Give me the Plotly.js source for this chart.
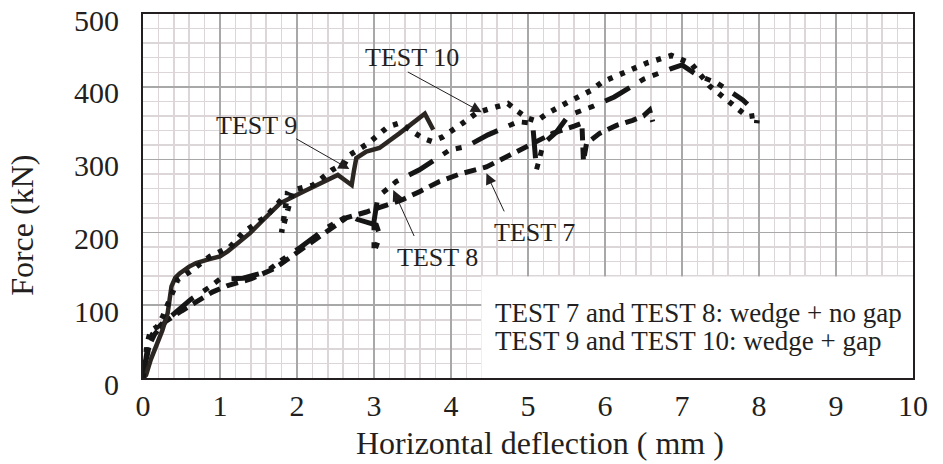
<!DOCTYPE html>
<html>
<head>
<meta charset="utf-8">
<script src="https://cdn.plot.ly/plotly-3.0.1.min.js"></script>
<style>html,body{margin:0;padding:0;background:#fff;}#chart{width:943px;height:464px;}</style>
</head>
<body>
<div id="chart"></div>
<script>
// TEST 7 (dashed)
const test7X = [0, 0.03, 0.08, 0.15, 0.3, 0.5, 0.7, 0.9, 1.1, 1.4, 1.7, 1.9, 2.12, 2.34, 2.64, 2.9, 3.1, 3.37, 3.59, 3.85, 4.11, 4.46, 4.76, 5.06, 5.32, 5.6, 5.7, 5.72, 5.76, 5.93, 6.15, 6.36, 6.5, 6.58, 6.62];
const test7Y = [0, 20, 45, 60, 78, 92, 105, 118, 127, 136, 150, 165, 183, 199, 220, 228, 235, 245, 256, 270, 280, 290, 306, 322, 336, 346, 350, 298, 322, 336, 347, 354, 360, 368, 352];
// TEST 8 (long dash dot)
const test8X = [0, 0.05, 0.12, 0.25, 0.4, 0.62, 0.85, 1.0, 1.3, 1.6, 1.8, 2.05, 2.38, 2.68, 2.78, 3.03, 3.08, 3.0, 3.0, 3.05, 3.29, 3.59, 3.98, 4.2, 4.48, 4.87, 5.06, 5.11, 5.2, 5.37, 5.53, 5.84, 6.12, 6.25, 6.51, 6.86, 7.0, 7.2, 7.46, 7.79, 7.85];
const test8Y = [0, 35, 60, 75, 88, 108, 124, 136, 137, 146, 162, 180, 206, 224, 218, 210, 195, 173, 215, 249, 270, 286, 313, 318, 334, 352, 350, 286, 322, 338, 361, 373, 386, 395, 411, 425, 430, 416, 405, 382, 376];
// TEST 9 (solid)
const test9X = [0, 0.04, 0.1, 0.17, 0.25, 0.32, 0.37, 0.42, 0.48, 0.6, 0.69, 0.85, 1.0, 1.1, 1.21, 1.39, 1.56, 1.78, 2.1, 2.35, 2.53, 2.62, 2.71, 2.74, 2.77, 2.9, 3.07, 3.33, 3.5, 3.66, 3.77];
const test9Y = [0, 4, 25, 43, 65, 89, 126, 138, 144, 153, 158, 163, 167, 174, 183, 199, 217, 240, 257, 269, 279, 272, 265, 285, 302, 311, 316, 336, 350, 363, 341];
// TEST 10 (dotted)
const test10X = [0, 0.03, 0.06, 0.1, 0.18, 0.26, 0.35, 0.45, 0.61, 0.87, 1.13, 1.3, 1.6, 1.88, 1.8, 1.95, 2.21, 2.34, 2.46, 2.62, 2.68, 2.92, 3.18, 3.33, 3.49, 3.64, 3.75, 3.89, 4.15, 4.33, 4.54, 4.74, 4.87, 4.99, 5.11, 5.26, 5.52, 5.82, 5.97, 6.25, 6.55, 6.86, 7.12, 7.36, 7.62, 7.85, 7.98, 7.97];
const test10Y = [0, 25, 50, 65, 70, 85, 110, 135, 146, 167, 180, 200, 222, 255, 200, 258, 265, 275, 286, 295, 306, 322, 345, 350, 338, 329, 325, 331, 350, 364, 371, 377, 366, 357, 353, 364, 379, 395, 407, 420, 433, 443, 432, 401, 379, 359, 361, 350];

const xTicks = [0,1,2,3,4,5,6,7,8,9,10];
const yTicks = [0,100,200,300,400,500];
const legendLines = ["TEST 7 and TEST 8: wedge + no gap", "TEST 9 and TEST 10: wedge + gap"];

const ink = '#231f20';
const serif = 'Liberation Serif, Times New Roman, serif';

const traces = [
  {x: test7X, y: test7Y, mode: 'lines', name: 'TEST 7', cliponaxis: false, line: {color: '#151515', width: 5, dash: '12px,7px'}},
  {x: test8X, y: test8Y, mode: 'lines', name: 'TEST 8', cliponaxis: false, line: {color: '#151515', width: 5, dash: '28px,12px,6px,8px,6px,12px'}},
  {x: test9X, y: test9Y, mode: 'lines', name: 'TEST 9', cliponaxis: false, line: {color: '#2b2622', width: 4.5}},
  {x: test10X, y: test10Y, mode: 'lines', name: 'TEST 10', cliponaxis: false, line: {color: '#151515', width: 5.5, dash: '5px,8px'}}
];

function arrow(x, y, ax, ay) {
  return {x: x, y: y, ax: ax, ay: ay, xref: 'x', yref: 'y', axref: 'x', ayref: 'y', text: '',
    showarrow: true, arrowhead: 2, arrowsize: 2.2, arrowwidth: 1, arrowcolor: ink, standoff: 0, startstandoff: 0};
}
function label(t, x, y) {
  return {x: x, y: y, xref: 'x', yref: 'y', xanchor: 'center', yanchor: 'middle', text: t, showarrow: false, font: {family: serif, size: 26, color: ink}};
}

const layout = {
  width: 943, height: 464,
  margin: {l: 143, r: 30, t: 14, b: 86},
  paper_bgcolor: '#fff', plot_bgcolor: '#fff',
  showlegend: false,
  xaxis: {
    range: [0, 10.0001], tickvals: xTicks, ticktext: xTicks.map(String),
    showgrid: true, gridcolor: '#a8a8a8', gridwidth: 1.5,
    minor: {dtick: 0.2, showgrid: true, gridcolor: '#ddd6d8', gridwidth: 1.5},
    showline: true, mirror: true, linecolor: ink, linewidth: 2, zeroline: false,
    ticks: '', ticklabelstandoff: 0, ticklabeloverflow: 'allow',
    tickfont: {family: serif, size: 30, color: ink}
  },
  yaxis: {
    range: [0, 500.01], tickvals: yTicks, ticktext: yTicks.map(String),
    showgrid: true, gridcolor: '#a8a8a8', gridwidth: 1.5,
    minor: {dtick: 20, showgrid: true, gridcolor: '#ddd6d8', gridwidth: 1.5},
    showline: true, mirror: true, linecolor: ink, linewidth: 2, zeroline: false,
    ticks: '', ticklabelstandoff: 16, ticklabelshift: 6, ticklabeloverflow: 'allow',
    tickfont: {family: serif, size: 30, color: ink}
  },
  shapes: [
    {type: 'rect', xref: 'x', yref: 'y', x0: 4.395, x1: 10, y0: 0, y1: 139.4,
     fillcolor: '#fff', line: {width: 0}, layer: 'between'}
  ],
  annotations: [
    label('TEST 10', 3.49, 440), arrow(4.40, 365, 3.42, 421.5),
    label('TEST 9', 1.47, 347.5), arrow(2.68, 287, 1.97, 329.8),
    label('TEST 7', 5.09, 199.3), arrow(4.46, 281.2, 4.70, 226.8),
    label('TEST 8', 3.83, 165.7), arrow(3.25, 258.3, 3.53, 193),
    {x: 4.545, y: 89.6, xref: 'x', yref: 'y', xanchor: 'left', yanchor: 'middle', text: legendLines[0], showarrow: false, font: {family: serif, size: 27, color: ink}},
    {x: 4.545, y: 51.2, xref: 'x', yref: 'y', xanchor: 'left', yanchor: 'middle', text: legendLines[1], showarrow: false, font: {family: serif, size: 27, color: ink}},
    {x: 0.516, y: -0.1775, xref: 'paper', yref: 'paper', xanchor: 'center', yanchor: 'middle', text: 'Horizontal deflection ( mm )', showarrow: false, font: {family: serif, size: 32, color: ink}},
    {x: -0.1575, y: 0.42, xref: 'paper', yref: 'paper', xanchor: 'center', yanchor: 'middle', text: 'Force (kN)', textangle: -90, showarrow: false, font: {family: serif, size: 32, color: ink}}
  ]
};

Plotly.newPlot('chart', traces, layout, {displayModeBar: false, staticPlot: true});
</script>
</body>
</html>
